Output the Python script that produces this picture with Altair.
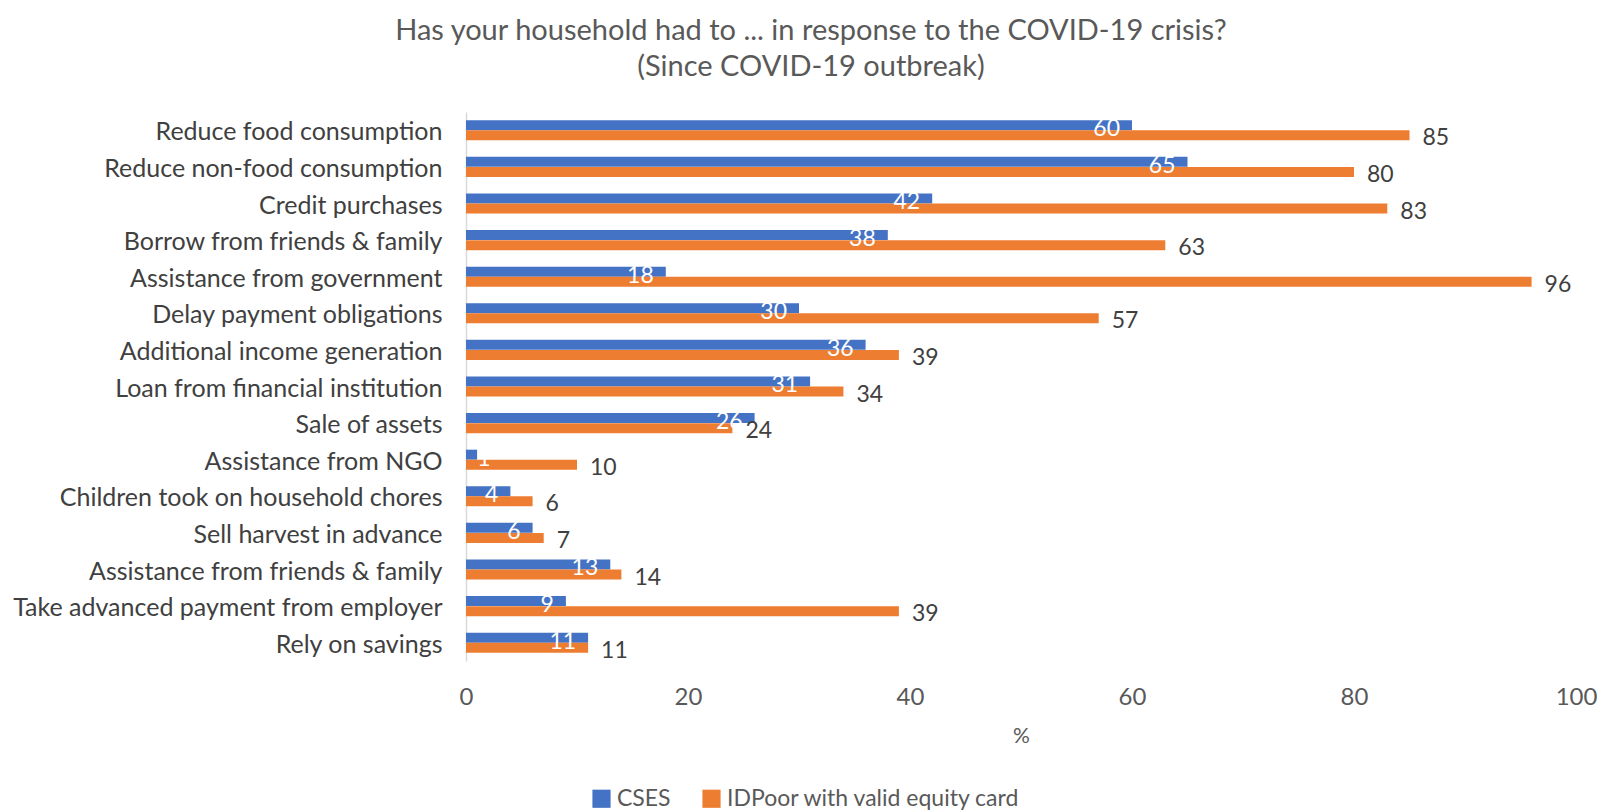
import altair as alt
import pandas as pd

# Coping strategies reported by households since the COVID-19 outbreak (%)
categories = [
    "Reduce food consumption",
    "Reduce non-food consumption",
    "Credit purchases",
    "Borrow from friends & family",
    "Assistance from government",
    "Delay payment obligations",
    "Additional income generation",
    "Loan from financial institution",
    "Sale of assets",
    "Assistance from NGO",
    "Children took on household chores",
    "Sell harvest in advance",
    "Assistance from friends & family",
    "Take advanced payment from employer",
    "Rely on savings",
]
cses = [60, 65, 42, 38, 18, 30, 36, 31, 26, 1, 4, 6, 13, 9, 11]
idpoor = [85, 80, 83, 63, 96, 57, 39, 34, 24, 10, 6, 7, 14, 39, 11]
series = ["CSES", "IDPoor with valid equity card"]
colors = ["#4472C4", "#ED7D31"]
x_ticks = [0, 20, 40, 60, 80, 100]

rows = []
for cat, a, b in zip(categories, cses, idpoor):
    rows.append({"item": cat, "group": series[0], "value": a})
    rows.append({"item": cat, "group": series[1], "value": b})
df = pd.DataFrame(rows)

FONT = "Lato"

y_enc = alt.Y(
    "item:N",
    sort=categories,
    scale=alt.Scale(paddingInner=0.45, paddingOuter=0.225),
    axis=alt.Axis(
        title=None,
        labelFontSize=25,
        labelColor="#404040",
        labelFont=FONT,
        labelPadding=24,
        labelOffset=2,
        labelLimit=0,
        ticks=False,
        domainColor="#d9d9d9",
        domainWidth=1.5,
        grid=False,
    ),
)
yoff = alt.YOffset("group:N", sort=series, scale=alt.Scale(paddingInner=0, paddingOuter=0))
x_enc = alt.X(
    "value:Q",
    scale=alt.Scale(domain=[0, 100], nice=False),
    axis=alt.Axis(
        values=x_ticks,
        title="%",
        titleFontSize=21,
        titleColor="#595959",
        titleFont=FONT,
        titleFontWeight="normal",
        titlePadding=16,
        labelFontSize=24,
        labelColor="#595959",
        labelFont=FONT,
        labelPadding=24,
        labelFlush=False,
        ticks=False,
        domain=False,
        grid=False,
    ),
)
color_enc = alt.Color(
    "group:N",
    sort=series,
    scale=alt.Scale(domain=series, range=colors),
    legend=alt.Legend(
        title=None,
        orient="none",
        direction="horizontal",
        legendX=124,
        legendY=675,
        symbolType="square",
        symbolSize=330,
        symbolStrokeWidth=0,
        labelFontSize=23,
        labelColor="#595959",
        labelFont=FONT,
        labelOffset=4,
        labelLimit=0,
        columnPadding=29,
    ),
)

base = alt.Chart(df)

bars = base.mark_bar(size=10).encode(x=x_enc, y=y_enc, yOffset=yoff, color=color_enc)

# inside-end labels: very short bars keep their label just right of the axis
cses_labels = (
    base.transform_filter(alt.datum.group == series[0])
    .transform_calculate(anchor="max(datum.value, 3.3)")
    .mark_text(align="right", baseline="middle", dx=-12, dy=4, fontSize=23, font=FONT, color="white")
    .encode(x="anchor:Q", y=alt.Y("item:N", sort=categories), yOffset=yoff, text="value:Q")
)
idpoor_labels = (
    base.transform_filter(alt.datum.group == series[1])
    .mark_text(align="left", baseline="middle", dx=13, dy=3, fontSize=23, font=FONT, color="#404040")
    .encode(x="value:Q", y=alt.Y("item:N", sort=categories), yOffset=yoff, text="value:Q")
)

chart = (
    alt.layer(bars, cses_labels, idpoor_labels)
    .properties(
        width=1110,
        height=549,
        title=alt.TitleParams(
            ["Has your household had to ... in response to the COVID-19 crisis?", "(Since COVID-19 outbreak)"],
            fontSize=29,
            font=FONT,
            fontWeight="normal",
            color="#595959",
            anchor="middle",
            dx=-210,
            offset=30,
            lineHeight=36,
        ),
        padding={"left": 466, "top": 112, "right": 23, "bottom": 151},
        autosize=alt.AutoSizeParams(type="none"),
    )
    .configure_view(stroke=None)
)

chart.save("out.html", embed_options={"renderer": "svg", "actions": False})
